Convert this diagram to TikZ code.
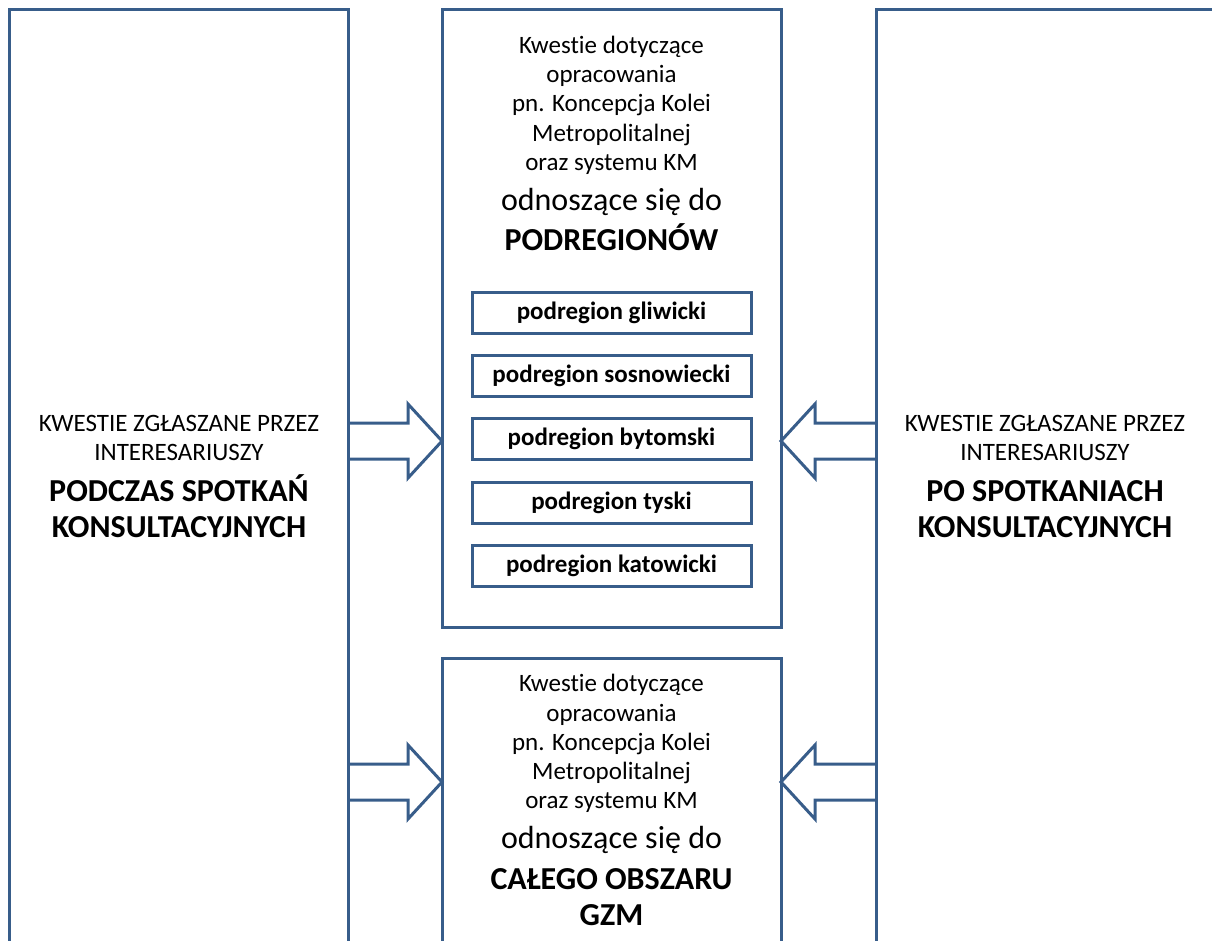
\documentclass[tikz,border=0pt]{standalone}
\usepackage{fontspec}
\setmainfont{Carlito}[Ligatures=NoCommon]
\usetikzlibrary{calc}
\definecolor{frameblue}{RGB}{56,93,138}
\tikzset{
  frame/.style={draw=frameblue, line width=3pt, rectangle, inner sep=0pt, outer sep=0pt, anchor=north west},
  subbox/.style={draw=frameblue, line width=3pt, rectangle, minimum width=279pt, minimum height=41pt,
    inner sep=0pt, outer sep=0pt, font=\fontsize{25}{29}\selectfont\bfseries},
  blk/.style={draw=frameblue, line width=3pt, line join=miter},
  small/.style={anchor=base, inner sep=0pt, font=\fontsize{25}{29}\selectfont},
  big/.style={anchor=base, inner sep=0pt, font=\fontsize{32}{36}\selectfont},
  bigb/.style={anchor=base, inner sep=0pt, font=\fontsize{32}{36}\selectfont\bfseries},
}
% hollow block arrow: start point, tip point, direction (+1 = right, -1 = left)
\newcommand\blockarrow[3]{%
  \draw[blk] let \p1=(#1), \p2=(#2) in
    (\x1,{\y1+18pt}) -- ({\x2-(#3)*34pt},{\y1+18pt}) -- ({\x2-(#3)*34pt},{\y1+37pt})
    -- (\x2,\y1) -- ({\x2-(#3)*34pt},{\y1-37pt}) -- ({\x2-(#3)*34pt},{\y1-18pt}) -- (\x1,{\y1-18pt});
}
\begin{document}
\begin{tikzpicture}[x=1pt,y=-1pt]
\useasboundingbox (0,0) rectangle (1212,940);
\clip (0,0) rectangle (1212,940);

% outer frames
\node[frame, minimum width=339pt, minimum height=951pt] (L) at (9.5,9) {};
\node[frame, minimum width=339pt, minimum height=618pt] (M1) at (442,9) {};
\node[frame, minimum width=339pt, minimum height=302pt] (M2) at (442,658) {};
\node[frame, minimum width=338pt, minimum height=951pt] (R) at (876,9) {};

% left frame text
\node[small] (l1) at (L.north |- 0,431) {KWESTIE ZGŁASZANE PRZEZ};
\node[small] (l2) at (L.north |- 0,460) {INTERESARIUSZY};
\node[bigb]  (l3) at (L.north |- 0,501) {PODCZAS SPOTKAŃ};
\node[bigb]  (l4) at (L.north |- 0,537) {KONSULTACYJNYCH};

% right frame text
\node[small] (r1) at (R.north |- 0,431) {KWESTIE ZGŁASZANE PRZEZ};
\node[small] (r2) at (R.north |- 0,460) {INTERESARIUSZY};
\node[bigb]  (r3) at (R.north |- 0,501) {PO SPOTKANIACH};
\node[bigb]  (r4) at (R.north |- 0,537) {KONSULTACYJNYCH};

% upper middle frame text
\node[small] (m1a) at (M1.north |- 0,53)  {Kwestie dotyczące};
\node[small] (m1b) at (M1.north |- 0,82)  {opracowania};
\node[small] (m1c) at (M1.north |- 0,111) {pn. Koncepcja Kolei};
\node[small] (m1d) at (M1.north |- 0,141) {Metropolitalnej};
\node[small] (m1e) at (M1.north |- 0,170) {oraz systemu KM};
\node[big]   (m1f) at (M1.north |- 0,210) {odnoszące się do};
\node[bigb]  (m1g) at (M1.north |- 0,250) {PODREGIONÓW};

% subregion boxes
\node[subbox] (p1) at (M1.north |- 0,312.5) {podregion gliwicki};
\node[subbox] (p2) at (M1.north |- 0,376)   {podregion sosnowiecki};
\node[subbox] (p3) at (M1.north |- 0,439)   {podregion bytomski};
\node[subbox] (p4) at (M1.north |- 0,502.5) {podregion tyski};
\node[subbox] (p5) at (M1.north |- 0,565.5) {podregion katowicki};

% lower middle frame text
\node[small] (m2a) at (M2.north |- 0,691) {Kwestie dotyczące};
\node[small] (m2b) at (M2.north |- 0,721) {opracowania};
\node[small] (m2c) at (M2.north |- 0,750) {pn. Koncepcja Kolei};
\node[small] (m2d) at (M2.north |- 0,779) {Metropolitalnej};
\node[small] (m2e) at (M2.north |- 0,808) {oraz systemu KM};
\node[big]   (m2f) at (M2.north |- 0,848) {odnoszące się do};
\node[bigb]  (m2g) at (M2.north |- 0,889) {CAŁEGO OBSZARU};
\node[bigb]  (m2h) at (M2.north |- 0,925) {GZM};

% arrow anchor points
\coordinate (a1s) at (L.east |- 0,441);
\coordinate (a1t) at (M1.west |- 0,441);
\coordinate (a2s) at (R.west |- 0,441);
\coordinate (a2t) at (M1.east |- 0,441);
\coordinate (a3s) at (L.east |- 0,782);
\coordinate (a3t) at (M2.west |- 0,782);
\coordinate (a4s) at (R.west |- 0,782);
\coordinate (a4t) at (M2.east |- 0,782);

\blockarrow{a1s}{a1t}{1}
\blockarrow{a2s}{a2t}{-1}
\blockarrow{a3s}{a3t}{1}
\blockarrow{a4s}{a4t}{-1}
\end{tikzpicture}
\end{document}
